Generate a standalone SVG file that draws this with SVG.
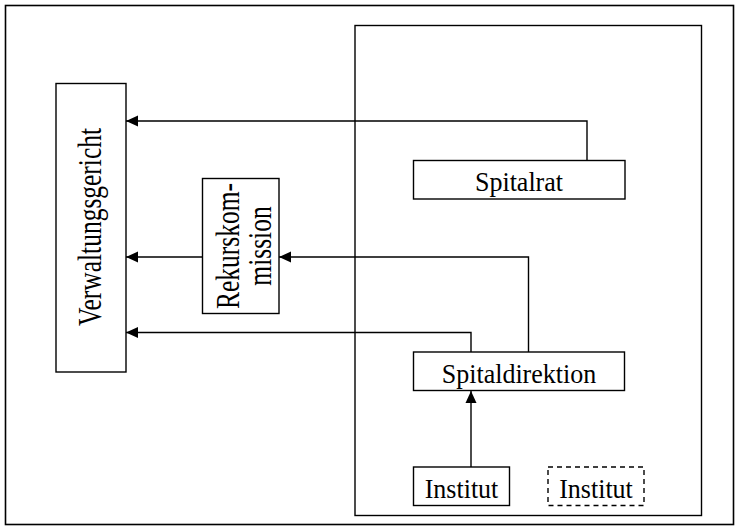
<svg xmlns="http://www.w3.org/2000/svg" width="740" height="531" viewBox="0 0 740 531">
<style>
.box{fill:#fff;stroke:#000;stroke-width:1.4}
.dash{fill:#fff;stroke:#000;stroke-width:1.4;stroke-dasharray:5,4}
.frame{fill:none;stroke:#000;stroke-width:1.4}
.conn{fill:none;stroke:#000;stroke-width:1.4}
text{font-family:"Liberation Serif","Times New Roman",serif;font-size:26px;fill:#000;text-anchor:middle}
text.v{font-size:25.5px}
</style>
<defs>
<marker id="ah" markerUnits="userSpaceOnUse" markerWidth="12" markerHeight="12" refX="12" refY="6" orient="auto">
<path d="M0,0.5 L12,6 L0,11.5 z" fill="#000"/>
</marker>
</defs>
<rect x="5.5" y="5.5" width="728" height="519" fill="none" stroke="#000" stroke-width="1.6"/>
<g id="spital">
<rect class="frame" x="355" y="25.5" width="346.5" height="490"/>
</g>
<g id="connectors">
<polyline class="conn" points="587,160 587,121 126,121" marker-end="url(#ah)"/>
<polyline class="conn" points="528.5,352 528.5,257 279,257" marker-end="url(#ah)"/>
<line class="conn" x1="202" y1="257" x2="126" y2="257" marker-end="url(#ah)"/>
<polyline class="conn" points="471,352 471,332.5 126,332.5" marker-end="url(#ah)"/>
<line class="conn" x1="471" y1="467" x2="471" y2="391" marker-end="url(#ah)"/>
</g>
<g id="verwaltungsgericht">
<rect class="box" x="56" y="83.5" width="70" height="288.5"/>
<text class="v" transform="translate(101,227) scale(1.28,1) rotate(-90)">Verwaltungsgericht</text>
</g>
<g id="rekurskommission">
<rect class="box" x="202.5" y="178.5" width="76.5" height="135"/>
<text class="v" transform="translate(239,246) scale(1.28,1) rotate(-90)">Rekurskom-</text>
<text class="v" transform="translate(271,246) scale(1.28,1) rotate(-90)">mission</text>
</g>
<g id="spitalrat">
<rect class="box" x="413.5" y="160.5" width="211.5" height="38.5"/>
<text transform="translate(519,191) scale(1,1.06)">Spitalrat</text>
</g>
<g id="spitaldirektion">
<rect class="box" x="413.5" y="352" width="211" height="38.5"/>
<text transform="translate(519,383) scale(1,1.06)">Spitaldirektion</text>
</g>
<g id="institut1">
<rect class="box" x="413.5" y="467" width="96" height="38.5"/>
<text transform="translate(461.5,497.5) scale(1,1.06)">Institut</text>
</g>
<g id="institut2">
<rect class="dash" x="548" y="467" width="96" height="38.5"/>
<text transform="translate(596,497.5) scale(1,1.06)">Institut</text>
</g>
</svg>
